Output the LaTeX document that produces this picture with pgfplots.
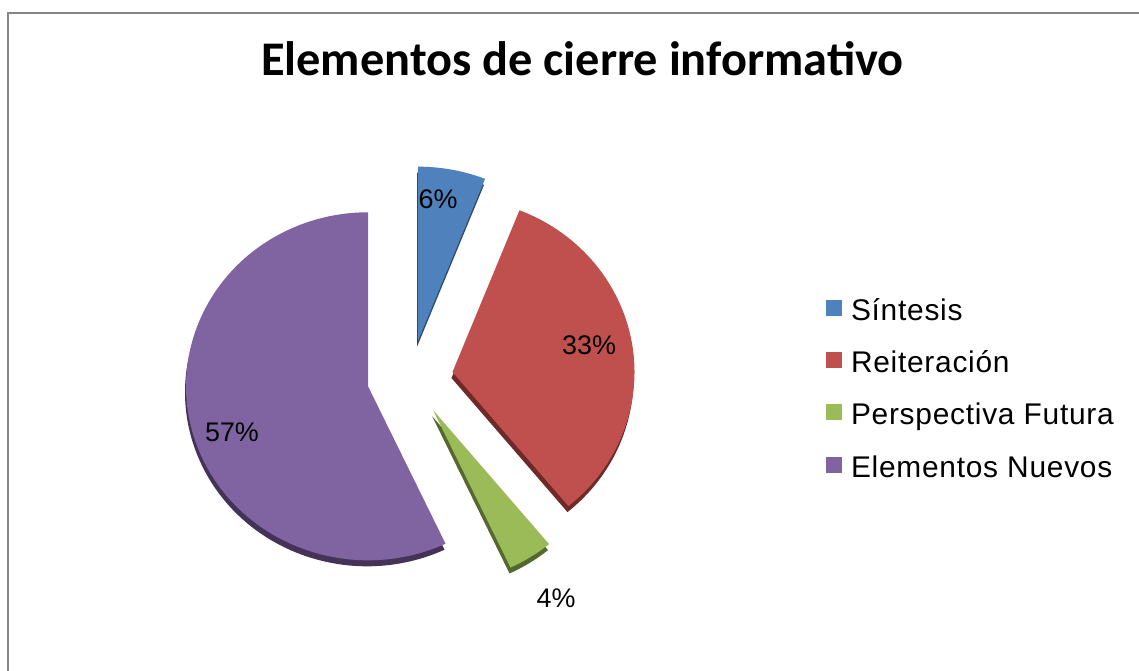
\documentclass[border=0pt]{standalone}
\usepackage{pgfplots}
\pgfplotsset{compat=1.18}
\usepackage{fontspec}
\setmainfont{Liberation Sans}[LetterSpace=2.5]
\newfontfamily\titlefont{Carlito}
\newfontfamily\labelfont{Liberation Sans}
\definecolor{cSin}{HTML}{4F81BD}
\definecolor{cRei}{HTML}{C0504D}
\definecolor{cPer}{HTML}{9BBB59}
\definecolor{cEle}{HTML}{8064A2}
\definecolor{dSin}{HTML}{2C4A6E}
\definecolor{dRei}{HTML}{6E2A28}
\definecolor{dPer}{HTML}{55692F}
\definecolor{dEle}{HTML}{433358}
\definecolor{frameC}{HTML}{868686}
\begin{document}
\begin{tikzpicture}[x=1bp,y=1bp]
\useasboundingbox (0,0) rectangle (1139,671);
\begin{axis}[
  at={(0,0)}, anchor=south west,
  scale only axis, width=1139bp, height=671bp,
  xmin=0, xmax=1139, ymin=0, ymax=671,
  hide axis, clip=false,
  legend style={draw=none, fill=none, inner sep=0pt, outer sep=0pt,
    at={(axis cs:826,371)}, anchor=north west,
    font=\fontsize{30}{30}\selectfont,
    row sep=25.7bp, column sep=9bp,
    cells={anchor=base west},
    nodes={inner sep=0pt, text height=20bp, text depth=6bp}},
  legend image code/.code={\fill[#1] (0bp,4.5bp) rectangle (16bp,20.5bp);},
]
\addlegendimage{fill=cSin, draw=none}
\addlegendentry{Síntesis}
\addlegendimage{fill=cRei, draw=none}
\addlegendentry{Reiteración}
\addlegendimage{fill=cPer, draw=none}
\addlegendentry{Perspectiva Futura}
\addlegendimage{fill=cEle, draw=none}
\addlegendentry{Elementos Nuevos}

\pgfplotsextra{
  \def\cx{410}\def\cy{293}\def\dx{43}\def\dy{38}\def\rx{182}\def\ry{174}
  \foreach \lay in {1,0}{
    \gdef\curang{90}
    \foreach \p/\c in {6/Sin,33/Rei,4/Per,57/Ele}{
      \pgfmathsetmacro\aone{\curang}
      \pgfmathsetmacro\atwo{\curang-3.6*\p}
      \pgfmathsetmacro\amid{(\aone+\atwo)/2}
      \pgfmathsetmacro\ax{\cx+\dx*cos(\amid)-1*\lay}
      \pgfmathsetmacro\ay{\cy+\dy*sin(\amid)-6*\lay}
      \ifnum\lay=1 \def\col{d\c}\else\def\col{c\c}\fi
      \fill[\col] (axis cs:\ax,\ay) -- ++(\aone:\rx bp and \ry bp)
        arc[start angle=\aone, end angle=\atwo, x radius=\rx bp, y radius=\ry bp] -- cycle;
      \xdef\curang{\atwo}
    }
  }
  \draw[frameC, line width=1.8bp] (axis cs:8,-5) -- (axis cs:8,658) -- (axis cs:1145,658);
}

\node[font=\titlefont\bfseries\fontsize{48.5}{52}\selectfont, anchor=base] at (axis cs:582.5,595) {Elementos de cierre informativo};
\node[font=\labelfont\fontsize{27}{27}\selectfont, anchor=base] at (axis cs:438,462) {6\%};
\node[font=\labelfont\fontsize{27}{27}\selectfont, anchor=base] at (axis cs:589,316) {33\%};
\node[font=\labelfont\fontsize{27}{27}\selectfont, anchor=base] at (axis cs:556,63) {4\%};
\node[font=\labelfont\fontsize{27}{27}\selectfont, anchor=base] at (axis cs:232,229) {57\%};
\end{axis}
\end{tikzpicture}
\end{document}
